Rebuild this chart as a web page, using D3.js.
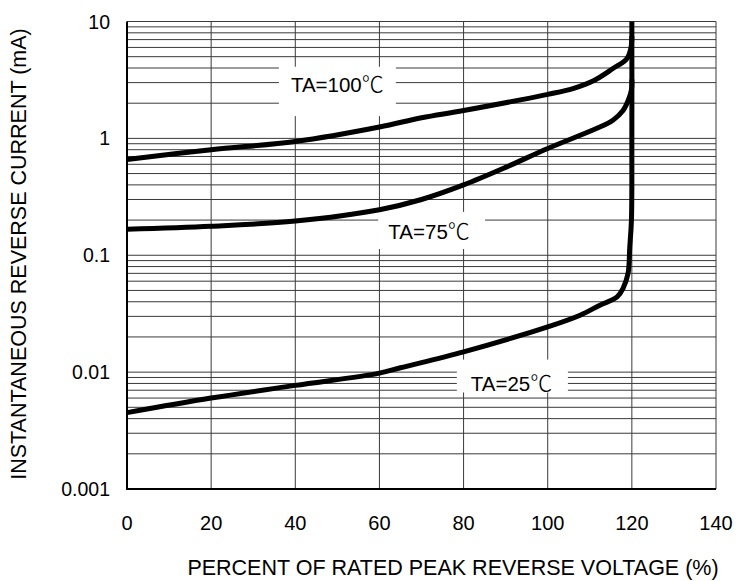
<!DOCTYPE html>
<html>
<head>
<meta charset="utf-8">
<script src="https://cdn.jsdelivr.net/npm/d3@7"></script>
<style>
  body { margin: 0; background: #fff; }
  text { font-family: "Liberation Sans", Arial, sans-serif; fill: #000; }
</style>
</head>
<body>
<div id="chart"></div>
<script>
var xTicks = [0, 20, 40, 60, 80, 100, 120, 140];
var yTicks = [0.001, 0.01, 0.1, 1, 10];
var yTickLabels = ["0.001", "0.01", "0.1", "1", "10"];

var pct100 = [0, 20, 40, 60, 70, 80, 100, 106, 111, 115.5, 118.8, 119.8, 120];
var ta100  = [0.66, 0.80, 0.94, 1.25, 1.5, 1.73, 2.38, 2.67, 3.13, 3.96, 4.8, 6.0, 7.5];

var pct75 = [0, 20, 40, 60, 70, 80, 90, 100, 111.7, 115.5, 117.9, 119.1, 119.9, 120];
var ta75  = [0.167, 0.177, 0.196, 0.245, 0.30, 0.40, 0.565, 0.82, 1.22, 1.43, 1.73, 2.1, 2.6, 3.2];

var pct25 = [0, 20, 40, 60, 65, 80, 100, 107.7, 112.4, 116.5, 117.9, 119.1, 119.5, 119.9, 120, 120];
var ta25  = [0.0045, 0.006, 0.0077, 0.0098, 0.0109, 0.0149, 0.0244, 0.0307, 0.0374, 0.044, 0.052, 0.070, 0.117, 0.2, 1, 10];

var curveNames = ["TA=100", "TA=75", "TA=25"];

var width = 746, height = 581;
var svg = d3.select("#chart").append("svg")
    .attr("width", width)
    .attr("height", height)

var x = d3.scaleLinear().domain([0, 140]).range([127, 716]);
var y = d3.scaleLog().domain([0.001, 10]).range([489, 21.5]);

// minor + major horizontal grid
var hLines = [];
for (var k = -3; k < 1; k++) {
  for (var m = 1; m < 10; m++) hLines.push(m * Math.pow(10, k));
}
hLines.push(10);

var grid = svg.append("g").attr("class", "grid")
grid.selectAll("line.h")
    .data(hLines)
    .enter().append("line")
    .attr("class", "h")
    .attr("x1", x(0)).attr("x2", x(140))
    .attr("y1", d => y(d)).attr("y2", d => y(d))
    .attr("stroke", "#3a3a3a")
    .attr("stroke-width", 1)

grid.selectAll("line.v")
    .data(xTicks.slice(1))
    .enter().append("line")
    .attr("class", "v")
    .attr("x1", d => x(d)).attr("x2", d => x(d))
    .attr("y1", y(0.001)).attr("y2", y(10))
    .attr("stroke", "#3a3a3a")
    .attr("stroke-width", 1)

// axes lines (left and bottom heavier)
svg.append("line")
    .attr("x1", x(0)).attr("x2", x(0))
    .attr("y1", y(0.001) + 1).attr("y2", y(10))
    .attr("stroke", "#000").attr("stroke-width", 2)
svg.append("line")
    .attr("x1", x(0)).attr("x2", x(140))
    .attr("y1", y(0.001)).attr("y2", y(0.001))
    .attr("stroke", "#000").attr("stroke-width", 2)

// white label boxes masking the grid
var boxes = [
  {x0: 36.1, x1: 63.9, y0: 4.1, y1: 1.55},
  {x0: 59.7, x1: 85.1, y0: 0.235, y1: 0.113},
  {x0: 78.4, x1: 104.8, y0: 0.0128, y1: 0.0067}
];
svg.selectAll("rect.box")
    .data(boxes)
    .enter().append("rect")
    .attr("class", "box")
    .attr("x", d => x(d.x0))
    .attr("y", d => y(d.y0))
    .attr("width", d => x(d.x1) - x(d.x0))
    .attr("height", d => y(d.y1) - y(d.y0))
    .attr("fill", "#fff")

// curves
var line = d3.line()
    .x(d => x(d[0]))
    .y(d => y(d[1]))
    .curve(d3.curveCatmullRom.alpha(0.5))

var series = [d3.zip(pct100, ta100), d3.zip(pct75, ta75), d3.zip(pct25, ta25)];
svg.selectAll("path.curve")
    .data(series)
    .enter().append("path")
    .attr("class", "curve")
    .attr("d", line)
    .attr("fill", "none")
    .attr("stroke", "#000")
    .attr("stroke-width", 5)
    .attr("stroke-linejoin", "round")

// curve labels
var labelPos = [[50, 92], [71.8, 239], [91.4, 391]];
var labels = svg.selectAll("text.lab")
    .data(curveNames)
    .enter().append("text")
    .attr("class", "lab")
    .attr("x", (d, i) => x(labelPos[i][0]))
    .attr("y", (d, i) => labelPos[i][1])
    .attr("text-anchor", "middle")
    .attr("font-size", 20.5)
labels.append("tspan").text(d => d)
labels.append("tspan")
    .style("font-family", "'Noto Sans CJK SC', sans-serif")
    .attr("font-weight", 300)
    .attr("font-size", 22)
    .text("\u2103")

// tick labels
svg.selectAll("text.xt")
    .data(xTicks)
    .enter().append("text")
    .attr("class", "xt")
    .attr("x", d => x(d))
    .attr("y", 530)
    .attr("text-anchor", "middle")
    .attr("font-size", 20)
    .text(d => d)

svg.selectAll("text.yt")
    .data(yTicks)
    .enter().append("text")
    .attr("class", "yt")
    .attr("x", 110)
    .attr("y", d => y(d) + 7)
    .attr("text-anchor", "end")
    .attr("font-size", 19.5)
    .text((d, i) => yTickLabels[i])

svg.append("text")
    .attr("x", 453)
    .attr("y", 575)
    .attr("text-anchor", "middle")
    .attr("font-size", 21.5)
    .text("PERCENT OF RATED PEAK REVERSE VOLTAGE (%)")

svg.append("text")
    .attr("transform", "translate(26,254) rotate(-90)")
    .attr("text-anchor", "middle")
    .attr("font-size", 21.5)
    .text("INSTANTANEOUS REVERSE CURRENT (mA)")
</script>
</body>
</html>
